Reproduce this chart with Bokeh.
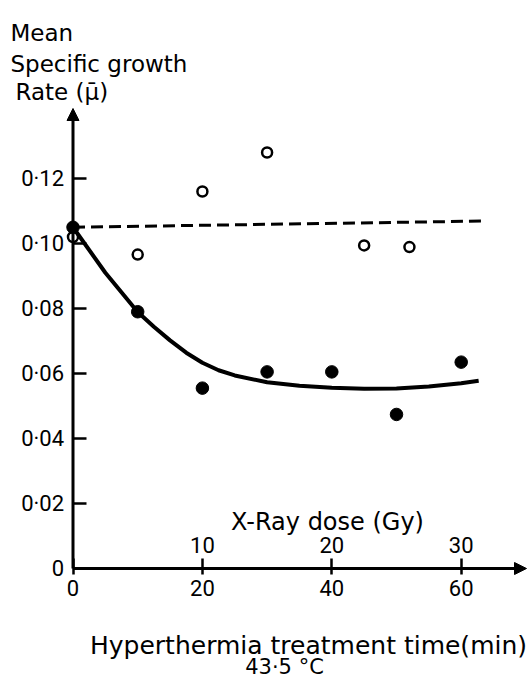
from bokeh.plotting import figure
from bokeh.models import (Range1d, LinearAxis, FixedTicker, Arrow, NormalHead,
                          Label)
from bokeh.embed import file_html
from bokeh.resources import INLINE

# ---------------- data ----------------
filled_x = [0, 10, 20, 30, 40, 50, 60]
filled_y = [0.105, 0.079, 0.0555, 0.0605, 0.0605, 0.0474, 0.0635]

open_x = [0, 10, 20, 30, 45, 52]
open_y = [0.102, 0.0966, 0.116, 0.128, 0.0994, 0.0989]

curve_x = [0, 5, 10, 12.5, 15, 17.5, 20, 22.5, 25, 30, 35, 40, 45, 50, 55, 60, 62.7]
curve_y = [0.105, 0.091, 0.0789, 0.0744, 0.0702, 0.0664, 0.0633, 0.0610, 0.0594,
           0.0573, 0.0562, 0.0556, 0.0553, 0.0554, 0.0560, 0.0570, 0.0578]

dash_x = [0, 63.3]
dash_y = [0.105, 0.1069]

time_ticks = [0, 20, 40, 60]
dose_ticks = [10, 20, 30]
y_ticks = [0, 0.02, 0.04, 0.06, 0.08, 0.10, 0.12]
y_tick_labels = ["0", "0·02", "0·04", "0·06", "0·08", "0·10", "0·12"]

# ---------------- layout (px -> data) ----------------
W, H = 528, 678
X0_PX, XS = 72.5, 6.47      # px of x=0, px per minute
Y0_PX, YS = 568.0, 3250.0   # px of y=0, px per unit

def dx(px):
    return (px - X0_PX) / XS

def dy(py):
    return (Y0_PX - py) / YS

xs, xe = dx(0), dx(W)
ys, ye = dy(H), dy(0)

FONT = "DejaVu Sans"
TFONT = "Roboto"

p = figure(width=W, height=H, x_range=Range1d(xs, xe), y_range=Range1d(ys, ye),
           output_backend="svg", toolbar_location=None,
           x_axis_type=None, y_axis_type=None,
           min_border_left=0, min_border_right=0,
           min_border_top=0, min_border_bottom=0)
p.outline_line_color = None
p.background_fill_color = "white"
p.border_fill_color = "white"
p.extra_x_ranges = {"dose": Range1d(xs / 2, xe / 2)}

# y axis
yaxis = LinearAxis(ticker=FixedTicker(ticks=y_ticks),
                   major_label_overrides=dict(zip(y_ticks, y_tick_labels)),
                   fixed_location=0, axis_line_color=None,
                   major_tick_in=13, major_tick_out=0,
                   major_tick_line_width=2.5, major_tick_line_color="black",
                   minor_tick_line_color=None,
                   major_label_text_font=TFONT,
                   major_label_text_font_size="22px",
                   major_label_text_color="black",
                   major_label_standoff=9)
p.add_layout(yaxis, "left")

# x axis (time)
xaxis = LinearAxis(ticker=FixedTicker(ticks=time_ticks),
                   fixed_location=0, axis_line_color=None,
                   major_tick_in=10, major_tick_out=6,
                   major_tick_line_width=2.5, major_tick_line_color="black",
                   minor_tick_line_color=None,
                   major_label_text_font=TFONT,
                   major_label_text_font_size="22px",
                   major_label_text_color="black",
                   major_label_standoff=5)
p.add_layout(xaxis, "below")

# x axis (dose) - labels above the time axis
daxis = LinearAxis(x_range_name="dose", ticker=FixedTicker(ticks=dose_ticks),
                   fixed_location=0, axis_line_color=None,
                   major_tick_line_color=None, minor_tick_line_color=None,
                   major_label_text_font=TFONT,
                   major_label_text_font_size="22px",
                   major_label_text_color="black",
                   major_label_standoff=10)
p.add_layout(daxis, "above")

# axis lines with arrows
p.add_layout(Arrow(end=NormalHead(size=12, fill_color="black", line_color="black"),
                   x_start=0, y_start=0, x_end=0, y_end=dy(108),
                   line_width=3, line_color="black"))
p.add_layout(Arrow(end=NormalHead(size=12, fill_color="black", line_color="black"),
                   x_start=0, y_start=0, x_end=dx(526), y_end=0,
                   line_width=3, line_color="black"))

# marks
p.scatter(open_x, open_y, size=10, fill_color="white", line_color="black",
          line_width=2.5)
p.line(dash_x, dash_y, line_width=3, line_color="black", line_dash="12 6")
p.line(curve_x, curve_y, line_width=4, line_color="black", line_join="round")
p.scatter(filled_x, filled_y, size=12.5, fill_color="black", line_color="black")

# texts
def lab(text, px, py, align="left", size="22px"):
    p.add_layout(Label(x=dx(px), y=dy(py), text=text, text_font=FONT,
                       text_font_size=size, text_align=align,
                       text_baseline="alphabetic", text_color="black"))

lab("Mean", 10, 32, size="23px")
lab("Specific growth", 10, 63, size="23px")
lab("Rate (μ̄)", 15, 91, size="23px")
lab("X-Ray dose (Gy)", 327, 521, align="center", size="24px")
lab("Hyperthermia treatment time(min)", 308, 645, align="center", size="25px")
lab("43·5 °C", 284, 666, align="center", size="21px")

open("out.html", "w").write(file_html(p, INLINE))
